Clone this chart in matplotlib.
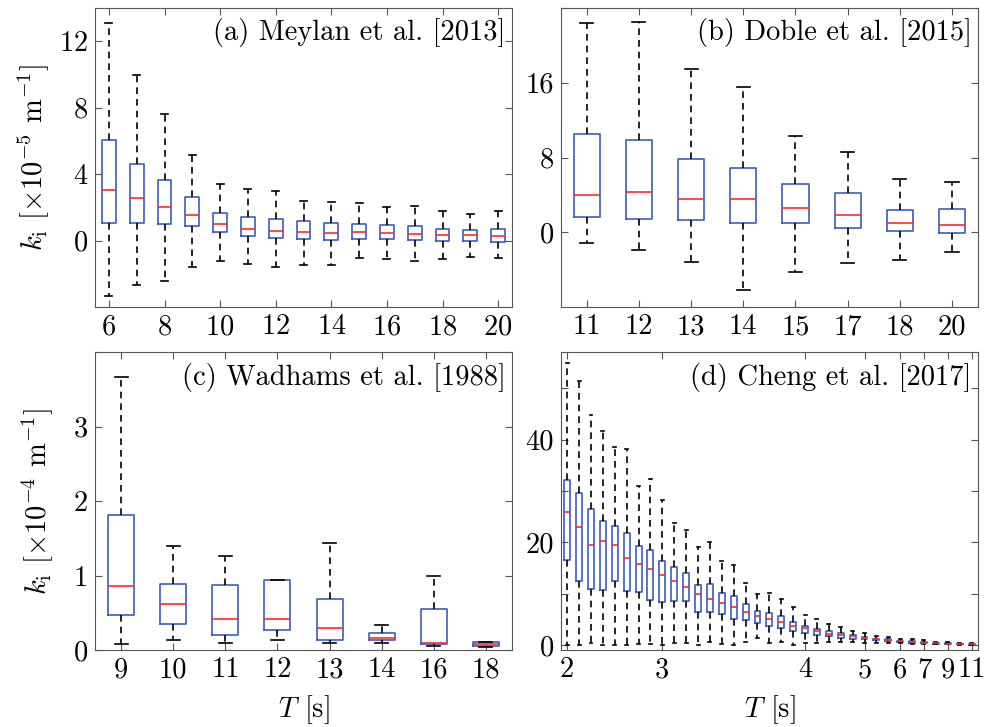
import matplotlib
matplotlib.use("Agg")
import matplotlib.pyplot as plt
import numpy as np

plt.rcParams['font.family'] = 'serif'
plt.rcParams['font.serif'] = ['cmr10', 'DejaVu Serif']
plt.rcParams['mathtext.fontset'] = 'cm'
plt.rcParams['axes.formatter.use_mathtext'] = True
plt.rcParams['font.size'] = 20.5

# (a) Meylan et al. [2013], units 1e-5 1/m
T_a = [6, 7, 8, 9, 10, 11, 12, 13, 14, 15, 16, 17, 18, 19, 20]
hi_a = [13.08, 9.96, 7.59, 5.17, 3.38, 3.12, 3.0, 2.41, 2.33, 2.27, 2.01, 2.09, 1.79, 1.61, 1.75]
q3_a = [6.04, 4.63, 3.62, 2.6, 1.67, 1.41, 1.31, 1.17, 1.05, 0.97, 0.95, 0.89, 0.7, 0.64, 0.72]
md_a = [3.04, 2.56, 2.05, 1.51, 0.97, 0.72, 0.6, 0.52, 0.46, 0.5, 0.44, 0.4, 0.32, 0.32, 0.28]
q1_a = [1.03, 1.03, 0.97, 0.87, 0.5, 0.26, 0.16, 0.08, 0.02, 0.1, 0.1, 0.04, -0.04, -0.02, -0.06]
lo_a = [-3.32, -2.68, -2.41, -1.61, -1.21, -1.41, -1.61, -1.49, -1.45, -1.07, -1.13, -1.21, -1.13, -1.0, -1.07]

# (b) Doble et al. [2015]
T_b = ['11', '12', '13', '14', '15', '17', '18', '20']
hi_b = [22.39, 22.46, 17.51, 15.53, 10.33, 8.61, 5.7, 5.35]
q3_b = [10.55, 9.9, 7.86, 6.85, 5.13, 4.16, 2.4, 2.44]
md_b = [3.98, 4.27, 3.52, 3.55, 2.58, 1.83, 0.97, 0.79]
q1_b = [1.65, 1.43, 1.29, 1.0, 1.0, 0.5, 0.18, -0.11]
lo_b = [-1.18, -1.87, -3.23, -6.17, -4.2, -3.3, -3.01, -2.08]

# (c) Wadhams et al. [1988], units 1e-4 1/m
T_c = ['9', '10', '11', '12', '13', '14', '16', '18']
hi_c = [3.67, 1.40, 1.26, 0.94, 1.44, 0.34, 0.99, 0.11]
q3_c = [1.81, 0.89, 0.87, 0.94, 0.69, 0.23, 0.55, 0.107]
md_c = [0.86, 0.62, 0.41, 0.41, 0.30, 0.16, 0.10, 0.076]
q1_c = [0.47, 0.35, 0.20, 0.27, 0.14, 0.13, 0.076, 0.054]
lo_c = [0.08, 0.14, 0.10, 0.14, 0.10, 0.095, 0.054, 0.045]

# (d) Cheng et al. [2017]
hi_d = [54.9, 51.4, 44.7, 41.6, 38.6, 38.1, 31.0, 32.4, 28.3, 23.8, 22.4, 19.1, 20.1, 16.4, 15.5,
        12.1, 10.0, 10.2, 8.9, 7.4, 5.8, 5.0, 4.1, 3.4, 2.7, 2.3, 1.7, 1.6, 1.2, 1.1, 0.9, 0.65,
        0.5, 0.45, 0.4]
q3_d = [32.1, 29.5, 26.4, 24.2, 23.1, 21.8, 19.2, 18.4, 16.4, 15.1, 14.1, 11.6, 11.9, 10.1, 9.5,
        7.9, 6.6, 6.2, 5.6, 4.5, 3.7, 3.1, 2.7, 2.3, 1.9, 1.6, 1.2, 1.1, 0.85, 0.7, 0.5, 0.4,
        0.32, 0.26, 0.2]
md_d = [25.9, 23.0, 19.4, 20.3, 19.5, 17.0, 15.8, 14.8, 13.7, 12.5, 11.3, 10.0, 9.0, 8.1, 7.4,
        6.4, 5.7, 5.0, 4.4, 3.7, 3.3, 2.7, 2.2, 1.9, 1.7, 1.4, 1.1, 0.9, 0.7, 0.6, 0.45, 0.3,
        0.26, 0.2, 0.13]
q1_d = [16.5, 12.4, 10.8, 10.7, 12.4, 10.5, 10.3, 8.7, 8.3, 8.5, 8.6, 6.4, 6.4, 6.0, 5.1,
        4.9, 4.2, 3.6, 3.2, 2.7, 2.4, 2.0, 1.7, 1.4, 1.2, 1.1, 0.9, 0.7, 0.5, 0.45, 0.3, 0.25,
        0.2, 0.13, 0.06]
lo_d = [0.0, 0.0, 0.3, 0.0, 0.0, 0.0, 0.1, 0.1, 0.0, 0.3, 0.3, 0.0, 0.5, 0.1, 0.0,
        0.5, 1.4, 0.3, 0.6, 0.0, 0.3, 0.3, 0.5, 0.5, 0.5, 0.4, 0.4, 0.3, 0.3, 0.2, 0.2, 0.13,
        0.13, 0.06, 0.05]
tick_idx_d = [1, 9, 21, 26, 29, 31, 33, 35]
tick_lab_d = ['2', '3', '4', '5', '6', '7', '9', '11']

blue = '#3a5cc4'
spine = '#555555'


def draw(ax, pos, lo, q1, md, q3, hi):
    stats = [dict(med=m, q1=a, q3=b, whislo=l, whishi=h, fliers=[])
             for l, a, m, b, h in zip(lo, q1, md, q3, hi)]
    ax.bxp(stats, positions=pos, widths=0.5, capwidths=0.25, showfliers=False,
           manage_ticks=False,
           boxprops=dict(color=blue, lw=1.2),
           whiskerprops=dict(color='black', lw=1.2, ls=(0, (4, 3))),
           capprops=dict(color='black', lw=1.2),
           medianprops=dict(color='#ff2a2a', lw=1.2))
    for s in ax.spines.values():
        s.set_color(spine)
    ax.tick_params(direction='in', top=True, right=True, length=5, color=spine, pad=5)


fig = plt.figure(figsize=(9.95, 7.27), dpi=100)
axa = fig.add_axes([0.0955, 0.5777, 0.4191, 0.4113])
axb = fig.add_axes([0.5635, 0.5777, 0.4195, 0.4113])
axc = fig.add_axes([0.0955, 0.1059, 0.4191, 0.4095])
axd = fig.add_axes([0.5635, 0.1059, 0.4195, 0.4095])

draw(axa, T_a, lo_a, q1_a, md_a, q3_a, hi_a)
axa.set_xlim(5.5, 20.5)
axa.set_ylim(-4, 14)
axa.set_xticks(range(6, 21, 2))
axa.set_yticks([0, 4, 8, 12])
axa.set_ylabel(r'$k_\mathrm{i}$ [$\times10^{-5}$ m$^{-1}$]', labelpad=5)
axa.text(0.985, 0.965, '(a) Meylan et al. [2013]', transform=axa.transAxes, ha='right', va='top')

pb = np.arange(1, len(T_b) + 1)
draw(axb, pb, lo_b, q1_b, md_b, q3_b, hi_b)
axb.set_xlim(0.5, len(T_b) + 0.5)
axb.set_ylim(-8, 24)
axb.set_xticks(pb)
axb.set_xticklabels(T_b)
axb.set_yticks([0, 8, 16, 24])
axb.set_yticklabels(['0', '8', '16', ''])
axb.text(0.985, 0.965, '(b) Doble et al. [2015]', transform=axb.transAxes, ha='right', va='top')

pc = np.arange(1, len(T_c) + 1)
draw(axc, pc, lo_c, q1_c, md_c, q3_c, hi_c)
axc.set_xlim(0.5, len(T_c) + 0.5)
axc.set_ylim(0, 4)
axc.set_xticks(pc)
axc.set_xticklabels(T_c)
axc.set_yticks([0, 1, 2, 3, 4])
axc.set_yticklabels(['0', '1', '2', '3', ''])
axc.set_ylabel(r'$k_\mathrm{i}$ [$\times10^{-4}$ m$^{-1}$]', labelpad=13)
axc.set_xlabel(r'$T$ [s]', labelpad=7)
axc.text(0.985, 0.965, '(c) Wadhams et al. [1988]', transform=axc.transAxes, ha='right', va='top')

pd_ = np.arange(1, len(md_d) + 1)
draw(axd, pd_, lo_d, q1_d, md_d, q3_d, hi_d)
axd.set_xlim(0.45, len(md_d) + 0.55)
axd.set_ylim(-1, 57)
axd.set_xticks(tick_idx_d)
axd.set_xticklabels(tick_lab_d)
axd.set_yticks(range(0, 60, 10))
axd.set_yticklabels(['0', '', '20', '', '40', ''])
axd.set_xlabel(r'$T$ [s]', labelpad=7)
axd.text(0.985, 0.965, '(d) Cheng et al. [2017]', transform=axd.transAxes, ha='right', va='top')

fig.savefig('out.png', dpi=100)
